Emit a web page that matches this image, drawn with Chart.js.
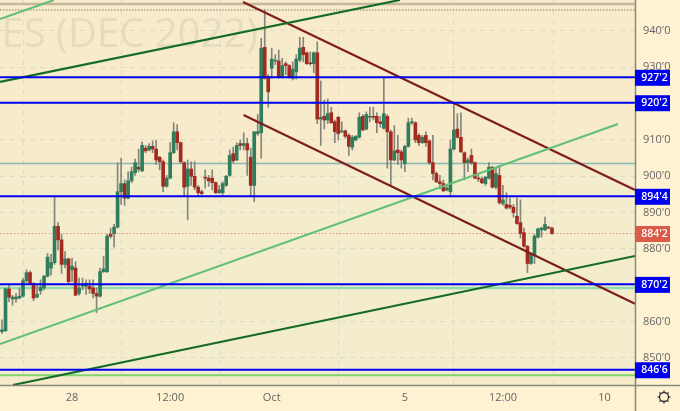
<!DOCTYPE html>
<html><head><meta charset="utf-8">
<style>html,body{margin:0;padding:0;background:#fef2d2;overflow:hidden}#w{position:relative;width:680px;height:411px}</style>
<script src="https://cdn.jsdelivr.net/npm/chart.js@4"></script>
</head><body><div id="w"><canvas id="c" width="680" height="411"></canvas></div>
<script>
const opens=[857.25,857.5,869,866.25,866.25,866.5,867,871.25,873.5,870.5,866.75,868.5,869.25,872.5,874.75,876.25,886.25,882.5,875.75,877.25,874.25,874.75,867.75,869.75,869.75,869.75,869.25,867.75,867,873.75,873.75,884,884.25,886,895.75,898,894,898.75,901,902.5,901.5,907.75,907.25,908.25,907.5,905.25,904,897.25,899.5,906.5,912.25,909.25,903.75,897.25,902,900,897,895.75,899.75,899.5,899.5,898.25,895.5,895.5,897.5,900.25,906.25,904.5,909,908.5,909,905.25,897.5,911.75,912,935.5,927.5,929.75,931.75,931.75,927.25,931,930.5,927,928.75,932,935.5,934,931.25,931,934,915.75,916.5,915.5,917.5,915,916.25,912.25,912.5,911.25,908,910,910.75,916.5,913,916.25,916.5,916.5,915,913.25,916.5,912.25,904.5,907.25,906.75,903.5,908.25,914.75,914.75,911.25,909.25,911.25,909.75,903.75,900.75,898.5,898,896.25,895.75,907.5,913,910.75,906.5,903.75,905.75,903.75,899.5,899.25,898,899.5,902.5,897,900.25,892.5,892.25,892,891.5,889,887.25,884.5,880.75,876,878.5,883.25,885.25,885.25,886,885.75];
const highs=[860.5,869.25,870.25,867.25,867.75,869.25,872,874.25,874,870.75,870.25,871.5,872.75,878.75,878.5,894.5,887.25,884,879.25,877.5,877.5,876.5,872,872,871.5,871.5,871.5,869.25,874.75,878,884,885.75,886.75,903.75,905,899,901.25,902.5,904.75,907.5,909.5,908.5,909,909.75,910,905.5,904.5,900.25,909.25,914.75,914.25,909.5,904,904.5,904,904,897.5,896.25,901.75,900.25,901.75,898.5,897.5,898.5,900.25,907.25,908,909.25,910,912,910.5,907.75,912.25,917,938,945.75,928,935.25,933.5,934.75,932.5,931.5,930.75,931.5,933.5,938.25,938.25,934.25,934.25,934.25,937,926.25,921,921.25,919,915.5,916.5,915,912.75,911.75,911.25,911.25,917.5,917,917.75,919,919,917.5,916.5,927,917,912.75,914,911.25,907.25,908.5,916,916,915,911.75,911.25,912.25,910,911.25,901.25,900.25,899,897.5,910,920.25,917.25,917.5,906.75,905,907.5,904,900.25,899.75,900,903.75,902.75,902.25,902.5,897.5,895.5,894,892.25,894,893.5,885.75,881,878.75,884,885.75,886,888.75,886.25,886];
const lows=[856.75,857.25,865.5,864.5,865.25,866.25,866.75,870.75,870.25,865.75,866.5,867.5,868.75,872.25,872.75,875.75,879.75,873.25,874.75,870.25,871,867.25,867.25,868.75,867.5,867.75,866.5,862.5,866.75,873.5,873.5,883,880.5,885.75,892.25,892,893.75,898.25,900.25,901.25,901.25,906.5,907,906.5,903.25,901.75,895.75,897,899.25,906.25,907.25,903.5,894.5,888,897.5,896.25,894.75,894.75,896.75,897.25,896.25,895.25,895.25,894.75,897.25,900,903.75,904.25,907.25,907.25,900.25,894.75,893,911.25,905,926.75,919,927,930.75,927,927,928,927,926.5,926.75,931.5,931.5,930.75,930.5,928.5,914.5,908.5,913,914.5,914.5,909.25,910,912,910.5,905.75,907.25,909.75,910.5,912.5,912.75,915,915.5,912,913.5,913,902.25,897.5,904.25,903.25,902.25,901.25,908,914.25,909.25,908.5,909,908.25,903.25,899,898.25,896.5,895.75,896,894.75,907.25,910.5,906.5,899,901.25,903.25,899.25,898.5,898,897.5,899.25,896.75,896.5,892.25,892,891,891,888.75,886.75,883,880.5,873.5,875.75,876,883,883.25,885,885.5,884];
const closes=[857.75,869,866.75,866.75,866.75,867,871.25,873.5,870.5,866.5,867.5,869.5,872.5,877.75,876.25,886.25,882.5,875.75,877.25,871,875.25,867.25,869.25,870.25,870.5,869,867.75,867,873.75,874.5,883.5,883.5,886,895.75,898,894,898.75,901.25,903.75,902,908.5,907,908.25,907.5,904.5,904,897.25,899.5,906.5,912.25,909.25,904,897,902,900,897,895.5,895.25,899.5,898.75,898.25,895.5,896.25,898,900,905.75,904.25,908.5,908.5,909,907.25,897.5,912.25,912.25,935.25,927,923.25,932.25,932,927.25,930.5,930.5,927.25,929.5,932.25,935.25,933.5,931,931,934,915.75,916.25,915.5,917.25,914.75,912.25,911.75,912.5,911,908.25,910.75,911,916.25,912.75,917,916.5,916.25,914.75,914.5,917.25,912.25,904.5,907,906.5,904.5,908.25,914.75,915,910,909.25,910.75,909.25,903.75,900.75,898.5,898,896,896.75,907.5,912.75,910.75,906.75,903.75,904.5,903.75,899.5,899.25,898.25,899.75,902.5,897,900.75,892.75,893.5,891.25,891.5,890,887,884.25,880.75,876,878.5,883.5,885.5,885.75,886.75,885.75,884.25];
const blueLevels=[927.25,920.25,894.5,870.25,846.75];
const blueLabels=["927'2","920'2","894'4","870'2","846'6"];
const lastPrice=884.25, lastLabel="884'2";
const yTicks=[850,860,870,880,890,900,910,920,930,940];
const xTickPos=[20,48,77,115,143,172];
const xTickLabels=["28","12:00","Oct","5","12:00","10"];
const darkGreenA=[[-0.57,925.96],[113.6,948.53]];
const darkGreenB=[[3.14,842.56],[180.7,878.07]];
const lightGreenA=[[-0.57,853.84],[175.85,914.4]];
const lightGreenB=[[-0.57,943.3],[14.84,948.53]];
const maroonA=[[68.8,947.98],[180.7,896.23]];
const maroonB=[[68.94,916.88],[180.7,864.94]];
const tealLevel=903.5, mintLevel=869.25, limeLevel=845.25, tanLevel=947.4, dotLevel=945.75;
const titleText="ES (DEC 2022)";

const idx=opens.map((_,i)=>i);
const xMin=-0.57,xMax=180.7,yMin=842.55,yMax=948.53;
const seg=(p)=>p.map(([x,y])=>({x,y}));
const hl=(v)=>[{x:xMin,y:v},{x:xMax,y:v}];
function line(pts,color,width,extra){return Object.assign({type:'line',data:pts,borderColor:color,borderWidth:width,pointRadius:0,tension:0,parsing:false,order:1},extra||{});}
const UP='#2f7d5b',DN='#a5291f';
const bg={
 id:'bg',
 beforeDraw(ch){
  const {ctx,chartArea:a,scales:{y}}=ch;
  ctx.save();
  ctx.fillStyle='#fef2d2';ctx.fillRect(0,0,680,411);
  ctx.fillStyle='#f7ebcb';ctx.fillRect(a.left,a.top,a.width,a.height);
  const t=y.getPixelForValue(tealLevel),b=y.getPixelForValue(limeLevel);
  ctx.fillStyle='#f3edcd';ctx.fillRect(a.left,t,a.width,b-t);
  ctx.restore();
 },
 beforeDatasetsDraw(ch){
  const {ctx}=ch;
  ctx.save();
  ctx.font='40px "Open Sans", sans-serif';
  ctx.fillStyle='#e5dcc0';ctx.textBaseline='alphabetic';ctx.textAlign='right';
  ctx.fillText(titleText,258,47);
  ctx.restore();
 },
 afterDraw(ch){
  const {ctx,chartArea:a,scales:{y}}=ch;
  ctx.save();
  ctx.strokeStyle='#8a8878';ctx.lineWidth=1.5;
  ctx.beginPath();ctx.moveTo(a.right+.5,0);ctx.lineTo(a.right+.5,411);ctx.moveTo(0,a.bottom+.5);ctx.lineTo(680,a.bottom+.5);ctx.stroke();
  ctx.font='600 10.5px "Open Sans", sans-serif';ctx.textAlign='center';ctx.textBaseline='middle';
  const badge=(v,t,c)=>{const p=y.getPixelForValue(v);ctx.fillStyle=c;ctx.fillRect(a.right,p-7.5,35,16);ctx.fillStyle='#fff';ctx.fillText(t,a.right+19.5,p+.5);};
  blueLevels.forEach((v,i)=>badge(v,blueLabels[i],'#0000f0'));
  badge(lastPrice,lastLabel,'#dc5a48');
  const gx=664,gy=397;
  ctx.strokeStyle='#333';ctx.lineWidth=1.3;ctx.beginPath();ctx.arc(gx,gy,4.5,0,Math.PI*2);ctx.stroke();
  for(let k=0;k<8;k++){const th=k*Math.PI/4;ctx.beginPath();ctx.moveTo(gx+4.5*Math.cos(th),gy+4.5*Math.sin(th));ctx.lineTo(gx+6.5*Math.cos(th),gy+6.5*Math.sin(th));ctx.stroke();}
  ctx.restore();
 }
};
new Chart(document.getElementById('c'),{
 type:'bar',
 data:{datasets:[
  {type:'bar',label:'body',order:2,grouped:false,barThickness:3,borderWidth:0,borderSkipped:false,
   data:idx.map(i=>({x:i,y:[opens[i],closes[i]]})),
   backgroundColor:idx.map(i=>closes[i]>=opens[i]?UP:DN)},
  {type:'bar',label:'wick',order:3,grouped:false,barThickness:1,borderWidth:0,borderSkipped:false,
   data:idx.map(i=>({x:i,y:[lows[i],highs[i]]})),
   backgroundColor:'#85857c'},
  line(hl(tanLevel),'#c6b8a0',2.5,{order:6}),
  line(hl(dotLevel),'#a8a490',1.5,{borderDash:[1.5,1.5],order:6}),
  line(hl(tealLevel),'#86b9b4',1.5,{order:6}),
  line(hl(mintLevel),'#93dcae',2.5,{order:6}),
  line(hl(limeLevel),'#7fd56f',2,{order:6}),
  line(hl(lastPrice),'#f08c78',1.2,{borderDash:[1.5,2],order:5}),
  line(seg(lightGreenA),'#62bf76',2),
  line(seg(lightGreenB),'#62bf76',2),
  line(seg(darkGreenA),'#146b26',2.2),
  line(seg(darkGreenB),'#146b26',2.2),
  line(seg(maroonA),'#7f1d1d',2.2),
  line(seg(maroonB),'#7f1d1d',2.2),
  ...blueLevels.map(v=>line(hl(v),'#0000f0',2,{order:0}))
 ]},
 options:{
  responsive:false,animation:false,events:[],
  layout:{padding:0,autoPadding:false},
  plugins:{legend:{display:false},tooltip:{enabled:false},title:{display:false}},
  scales:{
   x:{type:'linear',min:xMin,max:xMax,offset:false,
    afterBuildTicks(s){s.ticks=xTickPos.map(v=>({value:v}));},
    afterFit(s){s.height=26;s.paddingLeft=0;s.paddingRight=0;},
    grid:{color:'#dddccb',drawTicks:false,lineWidth:1},
    border:{display:false,dash:[5,5]},
    ticks:{autoSkip:false,maxRotation:0,padding:6,color:'#666',font:{family:'"Open Sans", sans-serif',size:11},
     callback(v){const k=xTickPos.indexOf(v);return k>=0?xTickLabels[k]:'';}}},
   y:{type:'linear',position:'right',min:yMin,max:yMax,
    afterBuildTicks(s){s.ticks=yTicks.map(v=>({value:v}));},
    afterFit(s){s.width=45;s.paddingTop=0;s.paddingBottom=0;},
    grid:{color:'#dddccb',drawTicks:false,lineWidth:1},
    border:{display:false,dash:[5,5]},
    ticks:{autoSkip:false,padding:8,color:'#666',font:{family:'"Open Sans", sans-serif',size:11},
     callback(v){return v+"'0";}}}
  }
 },
 plugins:[bg]
});
</script></body></html>
